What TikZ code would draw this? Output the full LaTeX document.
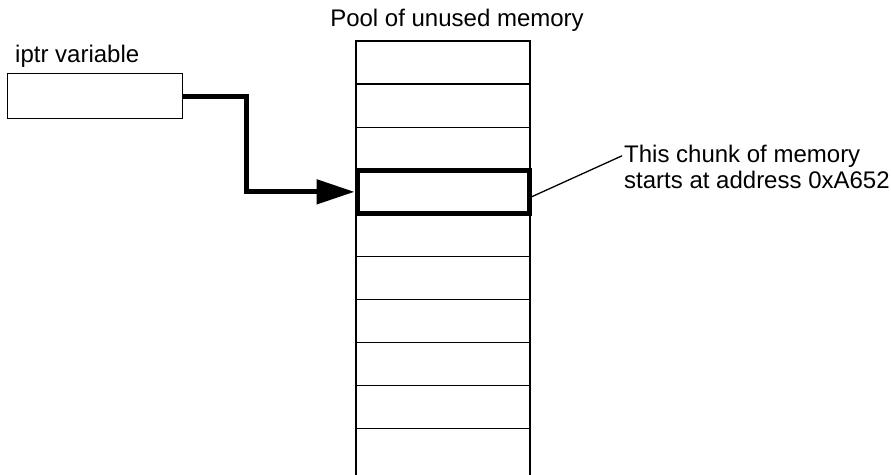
\documentclass[tikz,border=0pt]{standalone}
\usepackage{fontspec}
\setmainfont{Liberation Sans}
\usepackage{tikz}
\usetikzlibrary{arrows.meta, positioning}

\begin{document}
\begin{tikzpicture}[
    x=1pt, y=-1pt,
    cell/.style={rectangle, draw, line width=1.1pt, minimum width=174pt, minimum height=43.1pt, inner sep=0pt, outer sep=0pt},
    topcell/.style={cell, line width=2.6pt},
    chunkbox/.style={rectangle, draw, line width=5pt, minimum width=172pt, minimum height=42.5pt, inner sep=0pt},
    varbox/.style={rectangle, draw, line width=1.1pt, minimum width=175pt, minimum height=45pt, inner sep=0pt},
    lbl/.style={inner sep=0pt, font=\fontsize{24}{27}\selectfont},
    arr/.style={-{Triangle[length=38pt, width=24pt]}, line width=5pt},
    callout/.style={line width=1.3pt}
]
    \clip (0,0) rectangle (891,474);

    \node (title) [lbl, anchor=base] at (457,26) {Pool of unused memory};
    \node (ptrlbl) [lbl, anchor=base west] at (15,62) {iptr variable};
    \node (ptr) [varbox, anchor=north west] at (7,73) {};

    \node (c1) [cell, anchor=north west] at (356,41) {};
    \node (c2) [cell, below=0pt of c1] {};
    \node (c3) [cell, below=0pt of c2] {};
    \node (c4) [cell, below=0pt of c3] {};
    \node (c5) [cell, below=0pt of c4] {};
    \node (c6) [cell, below=0pt of c5] {};
    \node (c7) [cell, below=0pt of c6] {};
    \node (c8) [cell, below=0pt of c7] {};
    \node (c9) [cell, below=0pt of c8] {};
    \node (c10) [cell, below=0pt of c9, minimum height=60pt] {};
    \node (top) [topcell, at=(c1.center)] {};
    \node (chunk) [chunkbox, at=(c4.center)] {};

    \node (note1) [lbl, anchor=base west] at (624,162) {This chunk of memory};
    \node (note2) [lbl, anchor=base west] at (624,188) {starts at address 0xA652};

    \draw[arr] (ptr.east) -- ++(63,0) |- (chunk.west);
    \draw[callout] ([yshift=-5pt]chunk.east) -- ([xshift=-2pt]note1.west);
\end{tikzpicture}
\end{document}
